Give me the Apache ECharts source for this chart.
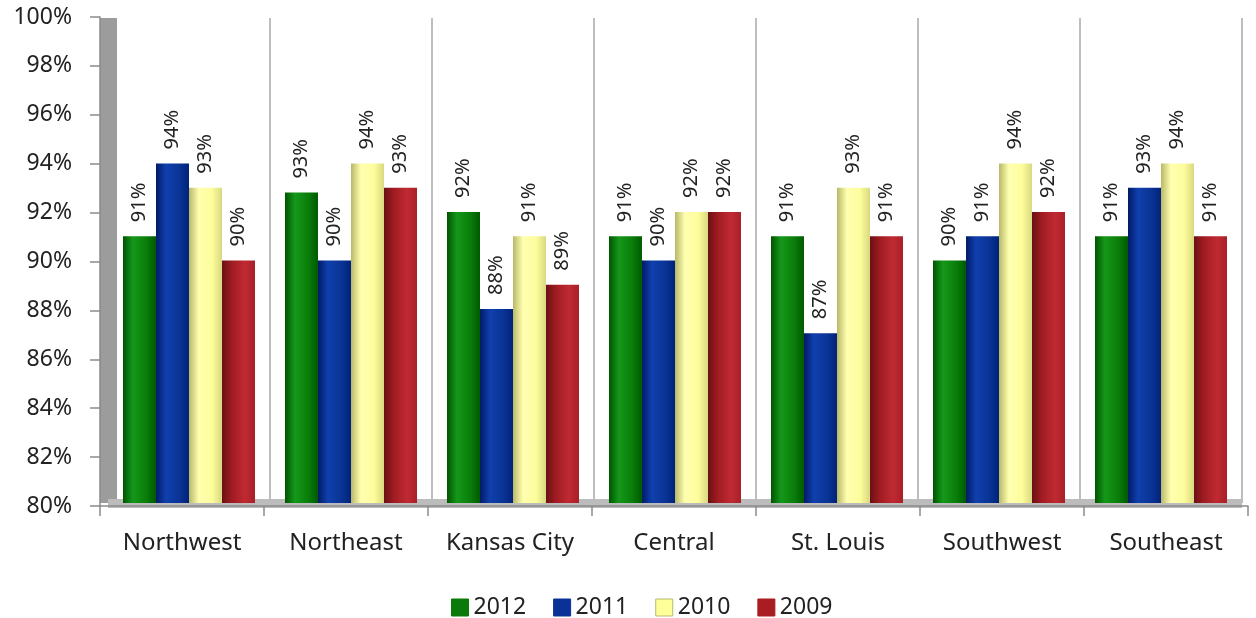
<!DOCTYPE html>
<html>
<head>
<meta charset="utf-8">
<style>
  html, body { margin: 0; padding: 0; background: #fff; }
  #chart-container { width: 1256px; height: 618px; }
</style>
<script src="https://cdn.jsdelivr.net/npm/echarts@6/dist/echarts.min.js"></script>
</head>
<body>
<div id="chart-container"></div>
<script>
var categories = ["Northwest", "Northeast", "Kansas City", "Central", "St. Louis", "Southwest", "Southeast"];
var years = ["2012", "2011", "2010", "2009"];
var data2012 = [91, 92.8, 92, 91, 91, 90, 91];
var data2011 = [94, 90, 88, 90, 87, 91, 93];
var data2010 = [93, 94, 91, 92, 93, 94, 94];
var data2009 = [90, 93, 89, 92, 91, 92, 91];
var yTicks = [80, 82, 84, 86, 88, 90, 92, 94, 96, 98, 100];

// flat colour for the legend, shades for the cylinder look
var baseColors = ["#0a7a0a", "#0a3296", "#ffff99", "#a81c22"];
var shades = [
  ["#005400", "#15981a", "#0a7e0a", "#005a00"],
  ["#001a66", "#1040ad", "#0a3496", "#00237a"],
  ["#b8b868", "#ffffb0", "#fdfd9c", "#d8d880"],
  ["#6a1014", "#a01c22", "#c02a32", "#a82028"]
];

var dom = document.getElementById("chart-container");
var myChart = echarts.init(dom, null, {
  renderer: "canvas",
  useDirtyRect: false
});

var font = "Noto Sans";

function cylinder(i) {
  return new echarts.graphic.LinearGradient(0, 0, 1, 0, [
    { offset: 0, color: shades[i][0] },
    { offset: 0.3, color: shades[i][1] },
    { offset: 0.7, color: shades[i][2] },
    { offset: 1, color: shades[i][3] }
  ]);
}

var allData = [data2012, data2011, data2010, data2009];
var seriesData = years.map(function (name, i) {
  return {
    name: name,
    type: "bar",
    xAxisIndex: 0,
    yAxisIndex: 0,
    data: allData[i],
    barGap: "0%",
    barCategoryGap: "18.5%",
    itemStyle: {
      color: cylinder(i)
    },
    label: {
      show: true,
      position: "top",
      rotate: 90,
      align: "left",
      verticalAlign: "middle",
      distance: 14,
      fontFamily: font,
      fontSize: 20,
      color: "#222",
      formatter: function (p) {
        return Math.round(p.value) + "%";
      }
    }
  };
});

var option = {
  animation: false,
  backgroundColor: "#fff",
  textStyle: { fontFamily: font },
  legend: {
    left: 446,
    top: 591,
    itemWidth: 17,
    itemHeight: 17,
    itemGap: 27,
    textStyle: { fontFamily: font, fontSize: 23, color: "#222" },
    data: years.map(function (y, i) {
      return {
        name: y,
        icon: "rect",
        itemStyle: {
          color: baseColors[i],
          borderColor: i === 2 ? "#b8b870" : baseColors[i],
          borderWidth: 1
        }
      };
    })
  },
  grid: [
    { left: 108, top: 18, width: 1134, height: 485 },
    { left: 100, top: 17, width: 1148, height: 489 }
  ],
  xAxis: [
    {
      type: "category",
      gridIndex: 0,
      data: categories,
      axisLabel: { show: false },
      axisTick: { show: false },
      axisLine: { show: true, lineStyle: { color: "#bcbcbc", width: 9, cap: "butt" } },
      splitLine: { show: true, interval: 0, lineStyle: { color: "#a8a8a8", width: 1.5 } }
    },
    {
      type: "category",
      gridIndex: 1,
      data: categories,
      z: 3,
      axisLine: { show: true, lineStyle: { color: "#8a8a8a", width: 1.5 } },
      axisTick: { show: true, interval: 0, length: 10, lineStyle: { color: "#8a8a8a", width: 1.5 } },
      axisLabel: { interval: 0, margin: 25, fontFamily: font, fontSize: 24, color: "#222" }
    }
  ],
  yAxis: [
    {
      type: "value",
      gridIndex: 0,
      min: 80,
      max: 100,
      interval: 2,
      axisLabel: { show: false },
      axisTick: { show: false },
      splitLine: { show: false },
      axisLine: { show: true, lineStyle: { color: "#9c9c9c", width: 17, cap: "butt" } }
    },
    {
      type: "value",
      gridIndex: 1,
      min: yTicks[0],
      max: yTicks[yTicks.length - 1],
      interval: 2,
      z: 3,
      splitLine: { show: false },
      axisLine: { show: true, lineStyle: { color: "#8a8a8a", width: 1.5 } },
      axisTick: { show: true, length: 10, lineStyle: { color: "#8a8a8a", width: 1.5 } },
      axisLabel: {
        margin: 28,
        fontFamily: font,
        fontSize: 23,
        color: "#222",
        formatter: "{value}%"
      }
    }
  ],
  series: seriesData
};

myChart.setOption(option);
window.addEventListener("resize", myChart.resize);
</script>
</body>
</html>
